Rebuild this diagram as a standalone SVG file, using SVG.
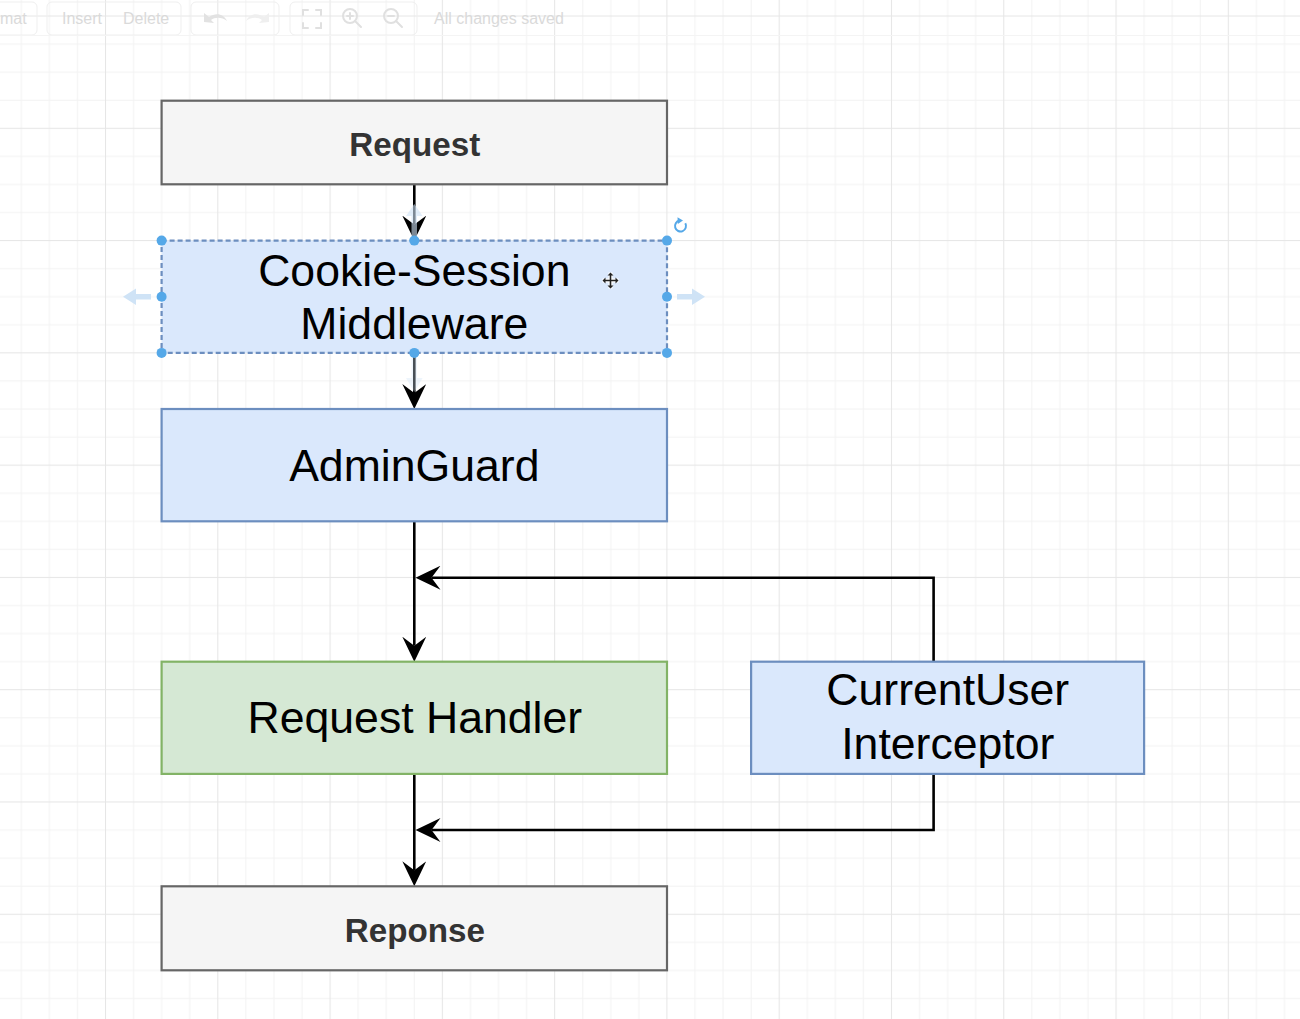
<svg xmlns="http://www.w3.org/2000/svg" width="1300" height="1019" viewBox="0 0 1300 1019">
  <style>
    .lbl { font-family: "Liberation Sans", Arial, Helvetica, sans-serif; font-size: 44.6px; fill: #000; text-anchor: middle; }
    .bold { font-family: "Liberation Sans", Arial, Helvetica, sans-serif; font-size: 33.2px; font-weight: bold; fill: #333; text-anchor: middle; }
    .tb { font-family: "Liberation Sans", Arial, Helvetica, sans-serif; font-size: 16px; fill: #dadada; }
    .tbbox { fill: none; stroke: #efefef; stroke-width: 1; }
    .tbicon { fill: none; stroke: #e0e0e0; stroke-width: 2; stroke-linecap: round; }
    .gray { fill: #f5f5f5; stroke: #666666; stroke-width: 2.2; }
    .blue { fill: #dae8fc; stroke: #6c8ebf; stroke-width: 2.2; }
    .green { fill: #d5e8d4; stroke: #82b366; stroke-width: 2.2; }
    .edge { fill: none; stroke: #000; stroke-width: 2.6; marker-end: url(#arrow); }
    .handle { fill: #55a8e8; }
    .hover { fill: #cfe3f6; }
  </style>
  <defs>
    <pattern id="grid" patternUnits="userSpaceOnUse" x="105" y="15.5" width="112.28" height="112.28">
      <rect x="0" y="0" width="112.28" height="112.28" fill="#ffffff"/>
      <rect x="28.07" y="0" width="1" height="112.28" fill="#f3f3f3"/>
      <rect x="56.14" y="0" width="1" height="112.28" fill="#f3f3f3"/>
      <rect x="84.21" y="0" width="1" height="112.28" fill="#f3f3f3"/>
      <rect x="0" y="28.07" width="112.28" height="1" fill="#f3f3f3"/>
      <rect x="0" y="56.14" width="112.28" height="1" fill="#f3f3f3"/>
      <rect x="0" y="84.21" width="112.28" height="1" fill="#f3f3f3"/>
      <rect x="0" y="0" width="1" height="112.28" fill="#e6e6e6"/>
      <rect x="0" y="0" width="112.28" height="1" fill="#e6e6e6"/>
    </pattern>
    <marker id="arrow" markerUnits="userSpaceOnUse" markerWidth="26" markerHeight="24" refX="9" refY="12" orient="auto">
      <path d="M0,0 L25,12 L0,24 L9,12 Z" fill="#000"/>
    </marker>
  </defs>

  <!-- canvas grid -->
  <rect x="0" y="0" width="1300" height="1019" fill="url(#grid)"/>

  <!-- faded toolbar -->
  <g id="toolbar">
    <rect class="tbbox" x="-10" y="2" width="47" height="33" rx="5"/>
    <rect class="tbbox" x="47" y="2" width="134" height="33" rx="5"/>
    <rect class="tbbox" x="191" y="2" width="88" height="33" rx="5"/>
    <rect class="tbbox" x="290" y="2" width="127" height="33" rx="5"/>
    <line x1="0" y1="35.5" x2="1300" y2="35.5" stroke="#f4f4f4" stroke-width="1"/>
    <text class="tb" x="0" y="24">mat</text>
    <text class="tb" x="62" y="24">Insert</text>
    <text class="tb" x="123" y="24">Delete</text>
    <text class="tb" x="434" y="24">All changes saved</text>
    <path d="M204,22 L204,13 L209,17 C216,12 224,14 227,21 C222,17 215,17 211,20 L214,23 Z" fill="#e2e2e2"/>
    <path d="M269,22 L269,13 L264,17 C257,12 249,14 246,21 C251,17 258,17 262,20 L259,23 Z" fill="#efefef"/>
    <path class="tbicon" d="M303,15 V10 H308 M316,10 H321 V15 M321,23 V28 H316 M308,28 H303 V23"/>
    <circle class="tbicon" cx="350" cy="16" r="7"/>
    <path class="tbicon" d="M355,21 L361,27 M347,16 H353 M350,13 V19"/>
    <circle class="tbicon" cx="391" cy="16" r="7"/>
    <path class="tbicon" d="M396,21 L402,27 M388,16 H394"/>
  </g>

  <!-- connectors -->
  <g id="connectors">
    <path class="edge" d="M414.3,184.3 V224.6"/>
    <path class="edge" d="M414.3,352.9 V393"/>
    <path class="edge" d="M414.3,521.3 V645.7"/>
    <path class="edge" d="M933.6,661.7 V577.7 H431.5"/>
    <path class="edge" d="M414.3,773.9 V870.2"/>
    <path class="edge" d="M933.6,773.9 V830 H431.5"/>
  </g>

  <!-- nodes -->
  <g id="request">
    <rect class="gray" x="161.6" y="100.7" width="505.4" height="83.6"/>
    <text class="bold" x="414.8" y="156">Request</text>
  </g>

  <g id="cookie-session">
    <rect class="blue" x="161.6" y="240.6" width="505.4" height="112.3" stroke-dasharray="5 3"/>
    <text class="lbl" x="414.3" y="286">Cookie-Session</text>
    <text class="lbl" x="414.3" y="338.5">Middleware</text>
  </g>

  <g id="adminguard">
    <rect class="blue" x="161.6" y="409" width="505.4" height="112.3"/>
    <text class="lbl" x="414.3" y="481">AdminGuard</text>
  </g>

  <g id="request-handler">
    <rect class="green" x="161.6" y="661.7" width="505.4" height="112.2"/>
    <text class="lbl" x="414.8" y="733">Request Handler</text>
  </g>

  <g id="currentuser-interceptor">
    <rect class="blue" x="751.1" y="661.7" width="393" height="112.2"/>
    <text class="lbl" x="947.8" y="705">CurrentUser</text>
    <text class="lbl" x="947.8" y="759">Interceptor</text>
  </g>

  <g id="reponse">
    <rect class="gray" x="161.6" y="886.3" width="505.4" height="84"/>
    <text class="bold" x="414.8" y="942">Reponse</text>
  </g>

  <!-- selection decorations on Cookie-Session -->
  <g id="selection">
    <path class="hover" opacity="0.6" d="M411.5,238 V216 H406 L414.3,204 L422.6,216 H417 V238 Z"/>
    <path class="hover" opacity="0.35" d="M411.5,356 V378 H406 L414.3,392 L422.6,378 H417 V356 Z"/>
    <path class="hover" d="M151,294 H136 V288.5 L123,296.7 L136,305 V299.4 H151 Z"/>
    <path class="hover" d="M677,294 H692 V288.5 L705,296.7 L692,305 V299.4 H677 Z"/>
    <circle class="handle" cx="161.6" cy="240.6" r="5"/>
    <circle class="handle" cx="414.3" cy="240.6" r="5"/>
    <circle class="handle" cx="667" cy="240.6" r="5"/>
    <circle class="handle" cx="161.6" cy="296.7" r="5"/>
    <circle class="handle" cx="667" cy="296.7" r="5"/>
    <circle class="handle" cx="161.6" cy="352.9" r="5"/>
    <circle class="handle" cx="414.3" cy="352.9" r="5"/>
    <circle class="handle" cx="667" cy="352.9" r="5"/>
    <path d="M685.3,223.3 A5.5,5.5 0 1 1 679.5,220.6" fill="none" stroke="#55a8e8" stroke-width="2"/>
    <path d="M677.5,217.3 L683,220.6 L677.8,224 Z" fill="#55a8e8"/>
    <g transform="translate(610.5,280.5)">
      <path d="M-8,0 H8 M0,-8 V8" stroke="#fff" stroke-width="4" fill="none"/>
      <path d="M-6,0 H6 M0,-6 V6" stroke="#222" stroke-width="1.6" fill="none"/>
      <path d="M-8,0 L-5,-3 V3 Z M8,0 L5,-3 V3 Z M0,-8 L-3,-5 H3 Z M0,8 L-3,5 H3 Z" fill="#222"/>
    </g>
  </g>
</svg>
